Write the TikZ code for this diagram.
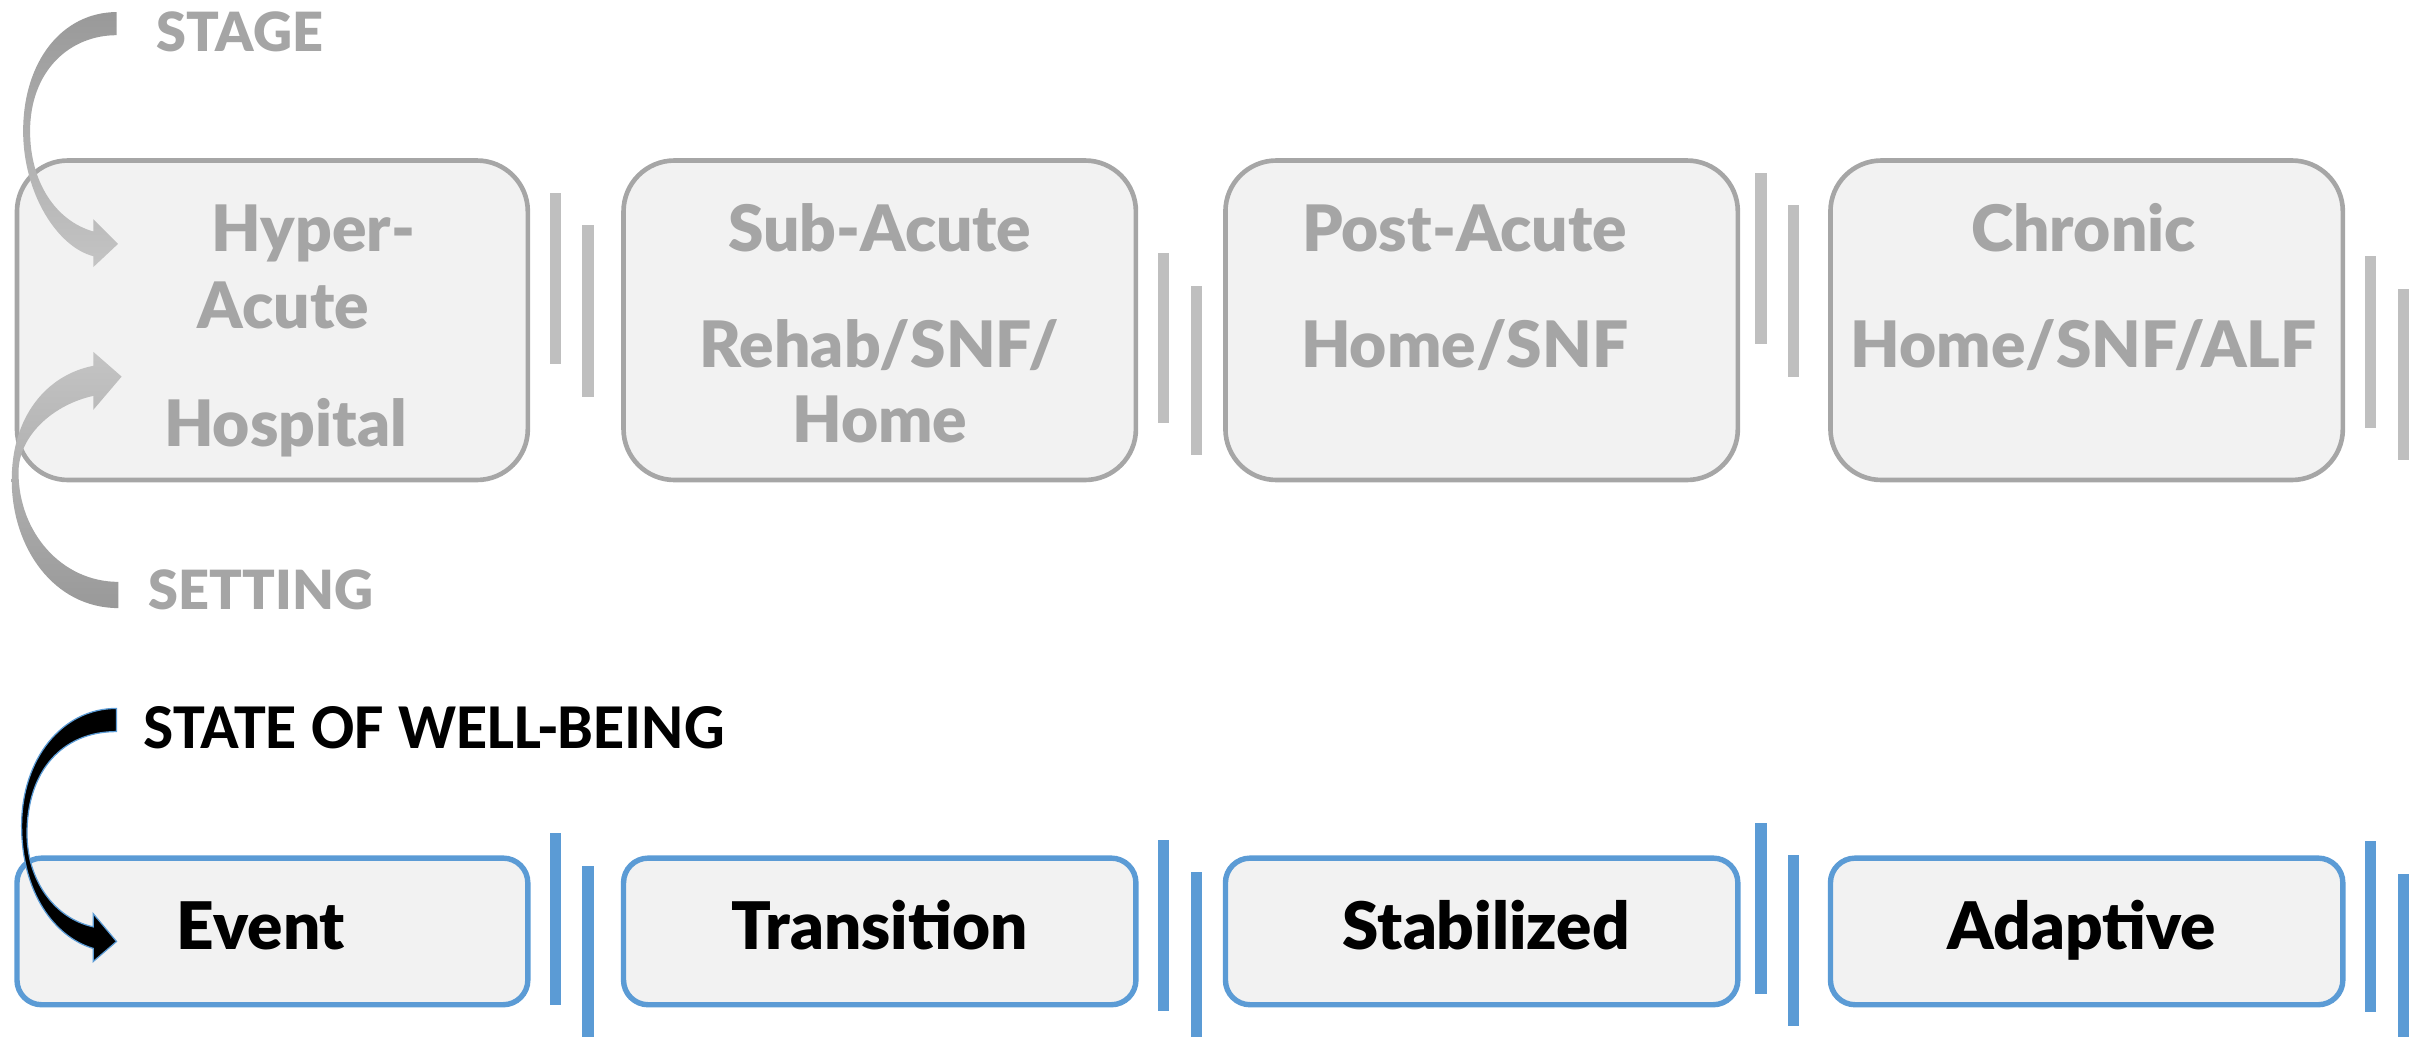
\documentclass[tikz,border=0pt]{standalone}
\usepackage{fontspec}
\setmainfont{Lato}[BoldFont={Lato Black}]
\newfontfamily\capsfont{Carlito}
\definecolor{boxfill}{HTML}{F2F2F2}
\definecolor{boxgray}{HTML}{A6A6A6}
\definecolor{txtgray}{HTML}{A5A5A5}
\definecolor{bargray}{HTML}{BFBFBF}
\definecolor{wellblue}{HTML}{5B9BD5}
\definecolor{arrdark}{HTML}{999999}
\definecolor{arrlight}{HTML}{C4C4C4}
\tikzset{
  stagebox/.style={draw=boxgray, line width=3pt, fill=boxfill, rounded corners=33pt},
  statebox/.style={draw=wellblue, line width=3.5pt, fill=boxfill, rounded corners=16pt},
  graytext/.style={inner sep=0pt, anchor=base, text=txtgray, font=\fontsize{41.5}{50}\selectfont\bfseries},
  blacktext/.style={inner sep=0pt, anchor=base, text=black, font=\fontsize{42.5}{50}\selectfont\bfseries},
  headtext/.style={inner sep=0pt, anchor=base, text=txtgray, font=\fontsize{35}{42}\selectfont\bfseries},
  graybar/.style={fill=bargray, draw=none},
  bluebar/.style={fill=wellblue, draw=none},
}
\begin{document}
\begin{tikzpicture}[x=1pt, y=-1pt]
\useasboundingbox (0,0) rectangle (1568,672);

% stage / setting boxes
\foreach \nm/\xa/\xb in {s1/11/342, s2/404/736, s3/794/1126, s4/1186/1518}
  \path[stagebox] (\xa,104) rectangle (\xb,311) coordinate (\nm);
% state of well-being boxes
\foreach \nm/\xa/\xb in {w1/11/342, w2/404/736, w3/794/1126, w4/1186/1518}
  \path[statebox] (\xa,556) rectangle (\xb,651) coordinate (\nm);

% separator bars, top row
\foreach \cx/\ya/\yb in {360/125/236, 381/146/257, 754/164/274, 775/185/295,
                         1141/112/223, 1162/133/244, 1536/166/277, 1557/187/298}
  \fill[graybar] (\cx-3.6,\ya) rectangle (\cx+3.6,\yb);
% separator bars, bottom row
\foreach \cx/\ya/\yb in {360/540/651, 381/561/672, 754/544/655, 775/565/672,
                         1141/533/644, 1162/554/665, 1536/545/656, 1557/566/672}
  \fill[bluebar] (\cx-3.6,\ya) rectangle (\cx+3.6,\yb);

% texts of the stage boxes
\node[graytext] (t1a) at (203,163) {Hyper-};
\node[graytext] (t1b) at (183.5,213) {Acute};
\node[graytext] (t1c) at (185,289) {Hospital};
\node[graytext] (t2a) at (570,163) {Sub-Acute};
\node[graytext] (t2b) at (570,238) {Rehab/SNF/};
\node[graytext] (t2c) at (570,287) {Home};
\node[graytext] (t3a) at (949,163) {Post-Acute};
\node[graytext] (t3b) at (949,238) {Home/SNF};
\node[graytext] (t4a) at (1350,163) {Chronic};
\node[graytext] (t4b) at (1350,238) {Home/SNF/ALF};

% texts of the well-being boxes
\node[blacktext] (e1) at (169,615) {Event};
\node[blacktext] (e2) at (570,615) {Transition};
\node[blacktext] (e3) at (963,615) {Stabilized};
\node[blacktext] (e4) at (1349,615) {Adaptive};

% row headings
\node[headtext] (stage) at (155.5,33.5) {STAGE};
\node[headtext] (setting) at (169,395) {SETTING};
\node[inner sep=0pt, anchor=base west, font=\capsfont\fontsize{41.5}{48}\selectfont\bfseries] (state) at (93,485) {STATE OF WELL-BEING};

% curved block arrow: STAGE -> first box
\shade[top color=arrdark, bottom color=arrlight, draw=none]
  (75.6,7.8) .. controls (40,8) and (15,40) .. (15,85)
  .. controls (15,125) and (37,160) .. (60.5,166)
  -- (60.5,173) -- (76.5,158) -- (60.5,142) -- (60.5,150)
  .. controls (36,143) and (19.5,118) .. (19.5,85)
  .. controls (19.5,46) and (45,22.8) .. (75.6,22.8) -- cycle;

% curved block arrow: SETTING -> first box
\shade[top color=arrlight, bottom color=arrdark, draw=none]
  (76.7,394) .. controls (35,394) and (7.6,355) .. (7.6,311)
  .. controls (7.6,270) and (30,243) .. (60.5,237)
  -- (60.5,228) -- (78.8,244) -- (60.5,265.5) -- (60.5,256.5)
  .. controls (35,262) and (12,282) .. (12,306)
  .. controls (12,345) and (40,377) .. (76.7,377) -- cycle;

% curved block arrow: STATE OF WELL-BEING -> Event
\filldraw[fill=black, draw=wellblue, line width=0.8pt]
  (75.5,459) .. controls (40,459) and (14,492) .. (14,535)
  .. controls (14,578) and (35,607) .. (60.4,614.5)
  -- (60.4,623) -- (75.5,610) -- (60.4,592) -- (60.4,600.5)
  .. controls (35,595) and (17.5,570) .. (17.5,540)
  .. controls (17.5,500) and (40,474) .. (75.5,474) -- cycle;
\end{tikzpicture}
\end{document}
